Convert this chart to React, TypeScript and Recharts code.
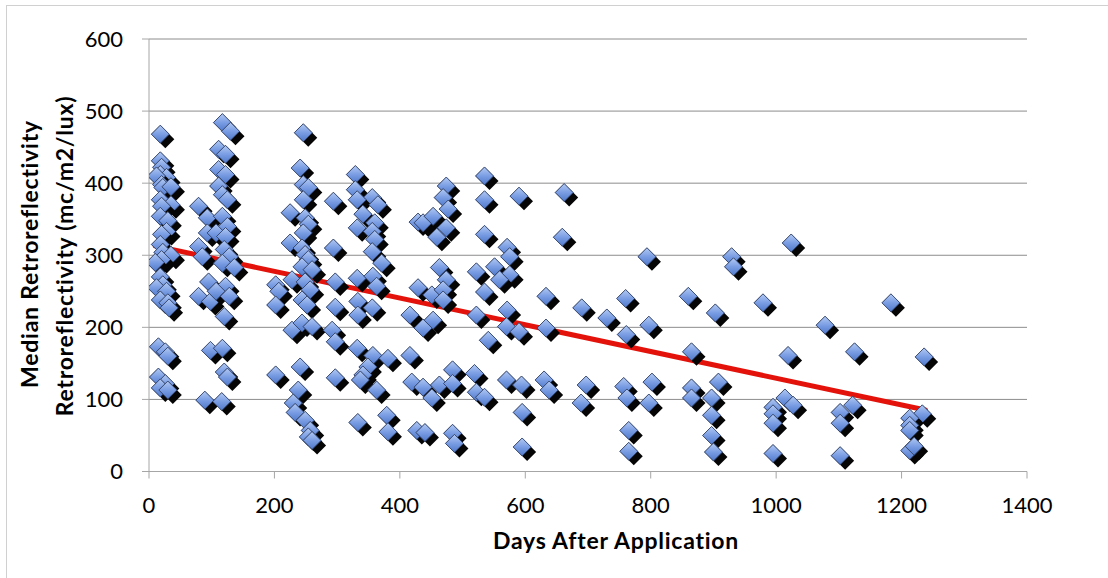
import React from 'react';
import { ScatterChart, Scatter, XAxis, YAxis, CartesianGrid, ReferenceLine } from 'recharts';

// [days after application, median retroreflectivity]
const days0to50: [number, number][] = [
  [18, 468], [18, 431], [20, 422], [18, 412], [28, 408], [12, 410], [20, 398], [22, 394],
  [35, 395], [18, 377], [35, 370], [20, 368], [18, 354], [30, 348], [28, 333], [20, 329],
  [18, 315], [22, 304], [35, 300], [20, 294], [10, 290], [18, 270], [22, 259], [12, 255],
  [28, 250], [18, 238], [30, 234], [32, 227], [15, 173], [26, 166], [30, 160], [15, 131],
  [26, 122], [18, 116], [30, 113],
];

const days51to150: [number, number][] = [
  [79, 368], [93, 352], [93, 331], [79, 312], [85, 298], [95, 263], [79, 243], [98, 236],
  [98, 168], [89, 99], [117, 484], [130, 472], [111, 447], [122, 440], [111, 419], [122, 412],
  [111, 396], [117, 384], [125, 377], [117, 354], [125, 340], [107, 331], [122, 326], [120, 308],
  [128, 298], [117, 289], [136, 283], [122, 257], [107, 250], [128, 243], [120, 215], [117, 171],
  [120, 138], [125, 131], [116, 97],
];

const days151to320: [number, number][] = [
  [202, 259], [207, 250], [202, 231], [202, 134], [246, 470], [241, 421], [246, 398], [254, 394],
  [246, 377], [225, 359], [249, 352], [254, 343], [246, 331], [225, 317], [244, 310], [249, 301],
  [254, 294], [244, 284], [260, 280], [228, 266], [249, 263], [257, 252], [244, 238], [252, 231],
  [228, 196], [244, 206], [260, 201], [241, 145], [238, 113], [230, 95], [233, 82], [249, 71],
  [257, 57], [254, 48], [260, 43], [294, 375], [294, 310], [297, 263], [297, 228], [292, 196],
  [297, 180], [297, 130],
];

const days321to400: [number, number][] = [
  [329, 412], [329, 391], [356, 380], [332, 377], [365, 370], [341, 357], [360, 345], [332, 338],
  [356, 333], [360, 322], [356, 305], [371, 289], [332, 268], [357, 271], [363, 257], [333, 236],
  [356, 227], [333, 217], [332, 171], [357, 161], [381, 157], [349, 145], [341, 134], [337, 127],
  [363, 113], [333, 68], [379, 78], [381, 55],
];

const days401to500: [number, number][] = [
  [429, 346], [429, 255], [416, 217], [416, 161], [419, 124], [427, 57], [474, 396], [469, 380],
  [477, 364], [437, 345], [453, 354], [474, 338], [459, 325], [463, 283], [474, 266], [451, 245],
  [469, 252], [469, 238], [437, 199], [453, 210], [437, 117], [451, 102], [463, 120], [484, 141],
  [484, 122], [440, 54], [484, 53], [487, 39],
];

const days501to750: [number, number][] = [
  [535, 410], [535, 377], [590, 382], [535, 329], [571, 311], [575, 298], [522, 277], [551, 284],
  [575, 273], [559, 266], [535, 249], [522, 217], [571, 224], [570, 201], [590, 194], [541, 182],
  [519, 136], [522, 110], [535, 103], [570, 127], [594, 120], [595, 82], [595, 34], [662, 387],
  [659, 325], [633, 243], [633, 199], [690, 227], [630, 127], [638, 113], [697, 120], [689, 95],
  [730, 213],
];

const days751to1000: [number, number][] = [
  [760, 240], [761, 190], [757, 118], [762, 102], [765, 57], [765, 28], [794, 298], [797, 203],
  [802, 124], [797, 95], [860, 243], [865, 166], [865, 116], [865, 102], [903, 220], [908, 124],
  [897, 102], [897, 78], [897, 50], [900, 27], [929, 298], [932, 284], [979, 234], [995, 89],
  [995, 80], [995, 67], [995, 25],
];

const days1001to1250: [number, number][] = [
  [1024, 317], [1019, 161], [1014, 102], [1027, 92], [1078, 203], [1125, 166], [1102, 82],
  [1102, 67], [1122, 92], [1102, 22], [1183, 234], [1236, 159], [1233, 80], [1213, 74],
  [1213, 64], [1213, 57], [1213, 29], [1220, 35],
];

const xTicks = [0, 200, 400, 600, 800, 1000, 1200, 1400];
const yTicks = [0, 100, 200, 300, 400, 500, 600];

// linear trend fitted to the points
const trendSlope = -0.1854;
const trendIntercept = 314.8;
const trendRange = [10, 1238];

const points = [
  ...days0to50, ...days51to150, ...days151to320, ...days321to400,
  ...days401to500, ...days501to750, ...days751to1000, ...days1001to1250,
].map(([day, value]) => ({ day, value }));

const trendSegment = trendRange.map((d) => ({ x: d, y: trendIntercept + trendSlope * d }));

const FONT = 'Lato, "Open Sans", sans-serif';

const titleStyle = {
  fontFamily: FONT,
  fontWeight: 'bold' as const,
  fontSize: 23,
  letterSpacing: 0.75,
  fill: '#000',
};

// bevelled diamond marker: dark extrusion toward lower right, blue face on top
const Diamond = (props: any) => {
  const { cx, cy } = props;
  if (cx == null || cy == null) return null;
  const r = 9;
  const s = 5;
  const face = `M${cx},${cy - r} L${cx + r},${cy} L${cx},${cy + r} L${cx - r},${cy} Z`;
  const extrusion = `M${cx},${cy - r} L${cx + r + s},${cy + s} L${cx + s},${cy + r + s} L${cx - r},${cy} Z`;
  return (
    <g>
      <path d={extrusion} fill="#050505" />
      <path d={face} fill="url(#markerFace)" stroke="#34466e" strokeWidth={0.9} />
    </g>
  );
};

export default function App() {
  return (
    <div style={{ position: 'absolute', left: 0, top: 0, width: 1108, height: 578, background: '#fff' }}>
      <ScatterChart width={1108} height={578} margin={{ top: 39, right: 81, bottom: 66.5, left: 89 }}>
        <defs>
          <linearGradient id="markerFace" x1="0" y1="0" x2="0" y2="1">
            <stop offset="0%" stopColor="#b2c9f3" />
            <stop offset="50%" stopColor="#7a9de3" />
            <stop offset="100%" stopColor="#5079cb" />
          </linearGradient>
        </defs>
        <CartesianGrid vertical={false} stroke="#8c8c8c" strokeWidth={1} />
        <XAxis
          type="number"
          dataKey="day"
          domain={[0, 1400]}
          ticks={xTicks}
          height={40}
          tickSize={7}
          tickMargin={19}
          stroke="#a6a6a6"
          tick={{ fill: '#000', fontSize: 22, fontFamily: FONT }}
          allowDataOverflow
        />
        <YAxis
          type="number"
          dataKey="value"
          domain={[0, 600]}
          ticks={yTicks}
          width={60}
          tickSize={7}
          tickMargin={19}
          stroke="#a6a6a6"
          tick={{ fill: '#000', fontSize: 22, fontFamily: FONT }}
          allowDataOverflow
        />
        <Scatter data={points} shape={<Diamond />} isAnimationActive={false} />
        <ReferenceLine segment={trendSegment} stroke="#e3120b" strokeWidth={5} strokeLinecap="round" />
      </ScatterChart>
      <svg
        width={1108}
        height={578}
        style={{ position: 'absolute', left: 0, top: 0, pointerEvents: 'none' }}
      >
        <line x1={6.5} y1={5} x2={6.5} y2={578} stroke="#d0d0d0" />
        <line x1={6} y1={5.5} x2={1108} y2={5.5} stroke="#d0d0d0" />
        <text x={616} y={549} textAnchor="middle" {...titleStyle}>
          Days After Application
        </text>
        <text x={38} y={254} textAnchor="middle" transform="rotate(-90, 38, 254)" {...titleStyle}>
          Median Retroreflectivity
        </text>
        <text x={73} y={256} textAnchor="middle" transform="rotate(-90, 73, 256)" {...titleStyle}>
          Retroreflectivity (mc/m2/lux)
        </text>
      </svg>
    </div>
  );
}
